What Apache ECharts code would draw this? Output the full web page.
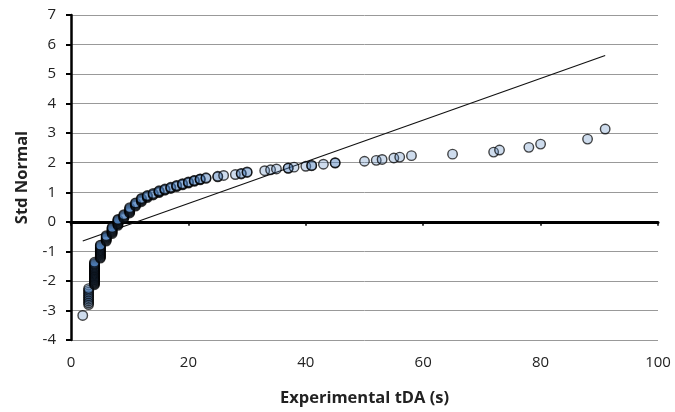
<!DOCTYPE html>
<html>
<head>
<meta charset="utf-8">
<script src="https://cdn.jsdelivr.net/npm/echarts@6/dist/echarts.min.js"></script>
<style>
  html, body { margin: 0; padding: 0; background: #fff; }
  #main { width: 675px; height: 412px; }
</style>
</head>
<body>
<div id="main"></div>
<script>
// tDA values in whole seconds, and the normal scores plotted at each one
const tdaSec = [
  2, 3, 4, 5, 6, 7, 8, 9, 10, 11, 12, 13, 14, 15, 16, 17, 18, 19, 20, 21, 22, 23,
  25, 26, 28, 29, 30, 33, 34, 35, 37, 38, 40, 41, 43, 45,
  50, 52, 53, 55, 56, 58, 65, 72, 73, 78, 80, 88, 91
];
const stdNormal = [
  [-3.17],
  [-2.80, -2.74, -2.68, -2.62, -2.56, -2.50, -2.44, -2.38, -2.32, -2.26],
  [-2.13, -2.10, -2.07, -2.04, -2.01, -1.98, -1.95, -1.92, -1.89, -1.86, -1.83, -1.80, -1.77,
   -1.74, -1.71, -1.68, -1.65, -1.62, -1.59, -1.56, -1.53, -1.50, -1.47, -1.44, -1.41, -1.37],
  [-1.23, -1.20, -1.17, -1.14, -1.11, -1.08, -1.05, -1.02, -0.99, -0.96, -0.93, -0.90, -0.87,
   -0.84, -0.81, -0.79],
  [-0.65, -0.62, -0.59, -0.56, -0.53, -0.50, -0.47],
  [-0.40, -0.37, -0.34, -0.31, -0.28, -0.25, -0.22, -0.19],
  [-0.12, -0.09, -0.06, -0.03, 0.00, 0.03, 0.06, 0.08],
  [0.12, 0.15, 0.18, 0.21, 0.24],
  [0.30, 0.33, 0.36, 0.39, 0.42, 0.45, 0.48],
  [0.53, 0.56, 0.59, 0.62, 0.64],
  [0.68, 0.71, 0.74, 0.77, 0.79],
  [0.82, 0.85, 0.87, 0.89],
  [0.91, 0.93, 0.96],
  [0.99, 1.01, 1.03, 1.05],
  [1.07, 1.09, 1.11],
  [1.13, 1.15, 1.17],
  [1.19, 1.21, 1.23],
  [1.25, 1.27, 1.29],
  [1.31, 1.33, 1.35],
  [1.37, 1.39, 1.40],
  [1.42, 1.44, 1.45],
  [1.47, 1.49],
  [1.52, 1.54],
  [1.57],
  [1.60],
  [1.62, 1.64],
  [1.67, 1.69],
  [1.73],
  [1.76],
  [1.79],
  [1.81, 1.82],
  [1.85],
  [1.88],
  [1.90, 1.91],
  [1.95],
  [1.99, 2.00],
  [2.05], [2.08], [2.11], [2.16], [2.19], [2.24], [2.29], [2.36], [2.43], [2.52], [2.63], [2.80], [3.14]
];
// linear trend line end points
const trendX = [2, 91];
const trendY = [-0.65, 5.63];

const xMin = 0, xMax = 100, xStep = 20;
const yMin = -4, yMax = 7, yStep = 1;

const points = [];
tdaSec.forEach((x, i) => {
  stdNormal[i].forEach(y => points.push([x, y]));
});
const trend = trendX.map((x, i) => [x, trendY[i]]);

const FONT = "'Open Sans', 'Liberation Sans', sans-serif";

const chart = echarts.init(document.getElementById('main'), null, { renderer: 'canvas' });

chart.setOption({
  animation: false,
  backgroundColor: '#fff',
  grid: { left: 71, right: 17, top: 15, bottom: 69 },
  xAxis: [
    {
      // bottom axis: labels + title only
      type: 'value',
      min: xMin,
      max: xMax,
      interval: xStep,
      position: 'bottom',
      name: 'Experimental tDA (s)',
      nameLocation: 'middle',
      nameGap: 50,
      nameTextStyle: { fontFamily: FONT, fontSize: 16.5, fontWeight: 'bold', color: '#222' },
      axisLine: { show: false, onZero: false },
      axisTick: { show: false },
      splitLine: { show: false },
      axisLabel: { fontFamily: FONT, fontSize: 15, color: '#222', margin: 15 }
    },
    {
      // axis line drawn on y = 0
      type: 'value',
      min: xMin,
      max: xMax,
      interval: xStep,
      position: 'bottom',
      axisLine: { show: true, onZero: true, lineStyle: { color: '#000', width: 3 } },
      axisTick: { show: true, length: 4, lineStyle: { color: '#000', width: 1.5 } },
      axisLabel: { show: false },
      splitLine: { show: false }
    }
  ],
  yAxis: {
    type: 'value',
    min: yMin,
    max: yMax,
    interval: yStep,
    name: 'Std Normal',
    nameLocation: 'middle',
    nameGap: 40,
    nameTextStyle: { fontFamily: FONT, fontSize: 16.5, fontWeight: 'bold', color: '#222' },
    axisLine: { show: true, onZero: false, lineStyle: { color: '#000', width: 2.5 } },
    axisTick: { show: true, length: 5, lineStyle: { color: '#000', width: 2 } },
    axisLabel: { fontFamily: FONT, fontSize: 15, color: '#222', margin: 15 },
    splitLine: { show: true, lineStyle: { color: '#999', width: 1 } }
  },
  series: [
    {
      type: 'line',
      xAxisIndex: 1,
      data: trend,
      symbol: 'none',
      lineStyle: { color: '#111', width: 1.2 },
      z: 3
    },
    {
      type: 'scatter',
      xAxisIndex: 1,
      data: points,
      symbol: 'circle',
      symbolSize: 9.5,
      // semi-transparent markers: overlapping points read darker / bluer
      itemStyle: { color: 'rgba(79,129,189,0.35)', borderColor: 'rgba(0,0,0,0.9)', borderWidth: 1.4 },
      z: 4
    }
  ]
});
</script>
</body>
</html>
